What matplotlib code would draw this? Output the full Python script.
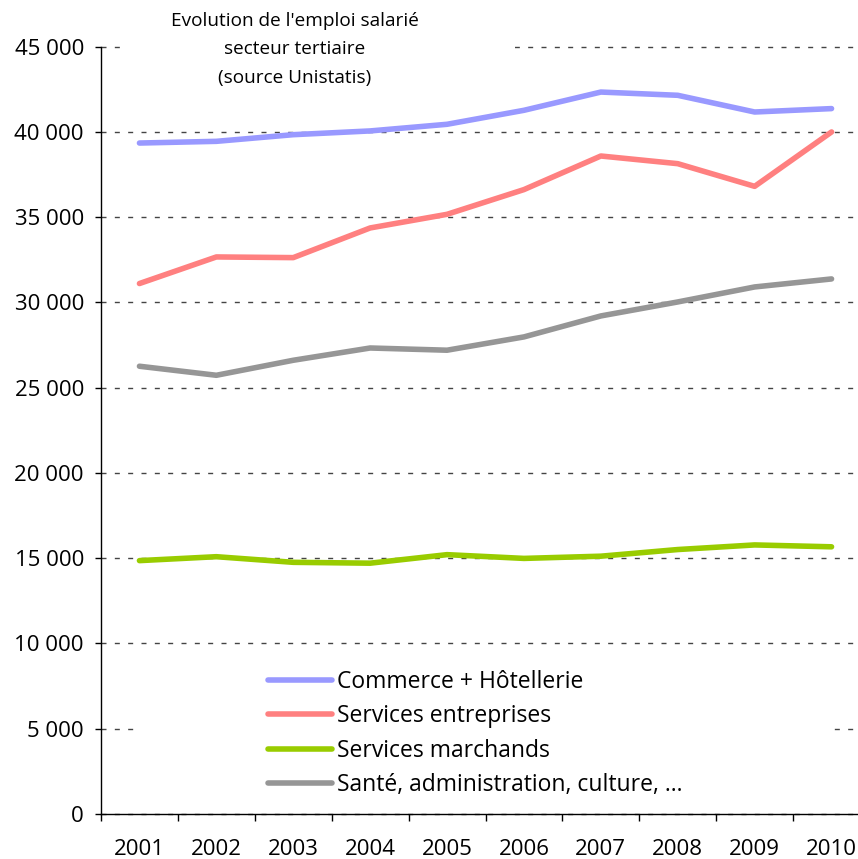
import matplotlib
matplotlib.use("Agg")
import matplotlib.pyplot as plt
from matplotlib.ticker import FixedLocator, FuncFormatter
from matplotlib.patches import Rectangle

plt.rcParams["font.family"] = ["Open Sans", "DejaVu Sans"]

years = ["2001", "2002", "2003", "2004", "2005", "2006", "2007", "2008", "2009", "2010"]
commerce = [39350, 39450, 39840, 40060, 40450, 41270, 42340, 42150, 41170, 41370]
services_ent = [31110, 32670, 32630, 34370, 35170, 36620, 38590, 38140, 36810, 40000]
services_march = [14860, 15090, 14760, 14710, 15210, 14990, 15120, 15510, 15780, 15670]
sante = [26260, 25730, 26610, 27330, 27200, 27980, 29210, 30030, 30910, 31380]

labels = ["Commerce + Hôtellerie", "Services entreprises",
          "Services marchands", "Santé, administration, culture, ..."]
colors = ["#9999FF", "#FF8080", "#99CC00", "#969696"]

W, H = 858, 859
fig = plt.figure(figsize=(W / 100, H / 100), dpi=100)
ax = fig.add_axes([101 / W, 45 / H, 769 / W, (814 - 46.7) / H])

x = list(range(len(years)))
for series, lab, col in zip([commerce, services_ent, services_march, sante], labels, colors):
    ax.plot(x, series, color=col, lw=4, label=lab, solid_capstyle="round", zorder=3)

ax.set_xlim(-0.5, len(years) - 0.5)
ax.set_ylim(0, 45000)
ax.set_yticks(range(0, 45001, 5000))
ax.yaxis.set_major_formatter(FuncFormatter(lambda v, p: f"{int(v):,}".replace(",", " ")))

ax.xaxis.set_major_locator(FixedLocator([i - 0.5 for i in range(len(years) + 1)]))
ax.xaxis.set_minor_locator(FixedLocator(x))
ax.set_xticklabels([])
ax.set_xticklabels(years, minor=True)
ax.tick_params(axis="x", which="major", length=5, width=1, direction="out")
ax.tick_params(axis="x", which="minor", length=0, pad=18, labelsize=16)
ax.tick_params(axis="y", length=4.3, width=1, pad=8, labelsize=16)

for s in ["top", "right"]:
    ax.spines[s].set_visible(False)
for s in ["left", "bottom"]:
    ax.spines[s].set_linewidth(1)

ax.set_axisbelow(True)
ax.grid(axis="y", color="#444444", lw=1, linestyle=(0, (3.6, 6)))
for gl in ax.get_ygridlines():
    gl.set_clip_on(False)

# white masks behind title and legend
ax.add_patch(Rectangle((122 / W, 1 - 105 / H), (515 - 122) / W, 105 / H,
                       transform=fig.transFigure, facecolor="white", edgecolor="none",
                       clip_on=False, zorder=1))
ax.add_patch(Rectangle((138 / W, 1 - 800 / H), (828 - 138) / W, (800 - 655) / H,
                       transform=fig.transFigure, facecolor="white", edgecolor="none",
                       clip_on=False, zorder=1))

fig.text(295 / W, 1 - 49.5 / H, "Evolution de l'emploi salarié\nsecteur tertiaire\n(source Unistatis)",
         ha="center", va="center", fontsize=13.7, linespacing=1.78)

ax.legend(loc="center left", bbox_to_anchor=(268 / W, 1 - 733.5 / H),
          bbox_transform=fig.transFigure, frameon=False, fontsize=16.5,
          handlelength=2.8, handletextpad=0.22, labelspacing=0.46,
          borderpad=0, borderaxespad=0)

fig.savefig("out.png", dpi=100)
